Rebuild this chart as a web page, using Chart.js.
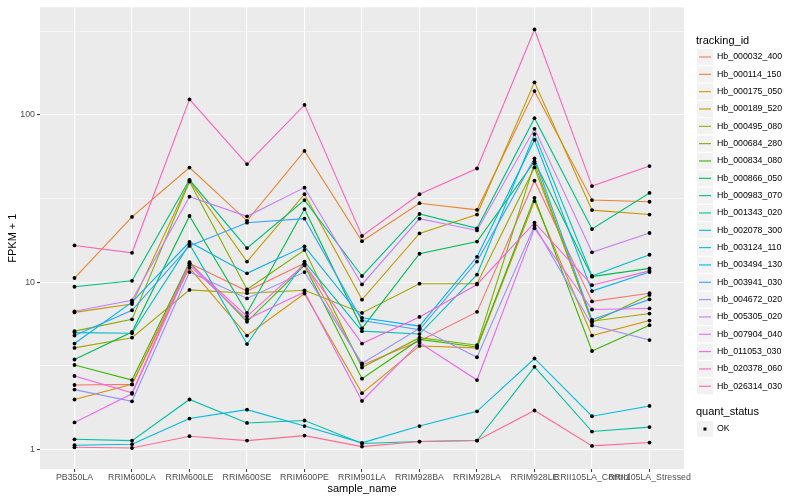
<!DOCTYPE html>
<html>
<head>
<meta charset="utf-8">
<script src="https://cdn.jsdelivr.net/npm/chart.js@4.4.1/dist/chart.umd.min.js"></script>
<style>
  html, body { margin: 0; padding: 0; background: #fff; }
  #wrap { width: 800px; height: 500px; position: relative; }
</style>
</head>
<body>
<div id="wrap"><canvas id="chart"></canvas></div>
<script>
const samples = ['PB350LA', 'RRIM600LA', 'RRIM600LE', 'RRIM600SE', 'RRIM600PE', 'RRIM901LA',
  'RRIM928BA', 'RRIM928LA', 'RRIM928LE', 'RRII105LA_Control', 'RRII105LA_Stressed']

const trackingIds = ['Hb_000032_400', 'Hb_000114_150', 'Hb_000175_050', 'Hb_000189_520', 'Hb_000495_080',
  'Hb_000684_280', 'Hb_000834_080', 'Hb_000866_050', 'Hb_000983_070', 'Hb_001343_020',
  'Hb_002078_300', 'Hb_003124_110', 'Hb_003494_130', 'Hb_003941_030', 'Hb_004672_020',
  'Hb_005305_020', 'Hb_007904_040', 'Hb_011053_030', 'Hb_020378_060', 'Hb_026314_030']

const colors = ['#F8766D', '#EA8331', '#D89000', '#C09B00', '#A3A500', '#7CAE00', '#39B600', '#00BB4E',
  '#00BF7D', '#00C1A3', '#00BFC4', '#00BAE0', '#00B0F6', '#35A2FF', '#9590FF', '#C77CFF',
  '#E76BF3', '#FA62DB', '#FF62BC', '#FF6C91']

// FPKM + 1, one array per tracking_id, in sample order
const hb000032 = [2.43, 2.45, 13.0, 8.85, 13.0, 3.2, 4.45, 6.65, 40.5, 7.68, 8.6]
const hb000114 = [10.6, 24.6, 48.5, 23.3, 61, 17.6, 29.7, 27.1, 139, 31.0, 30.3]
const hb000175 = [1.99, 2.45, 12.2, 4.8, 8.55, 2.17, 4.16, 4.05, 30.6, 4.8, 5.9]
const hb000189 = [6.6, 7.4, 40.5, 13.3, 33.6, 7.87, 19.6, 25.4, 157, 27.0, 25.4]
const hb000495 = [4.05, 4.66, 9.0, 8.6, 8.95, 6.55, 9.8, 9.8, 48.6, 5.85, 6.5]
const hb000684 = [5.1, 6.0, 40, 9.05, 15.6, 3.09, 4.66, 4.2, 51.4, 5.75, 8.4]
const hb000834 = [3.2, 2.6, 13.2, 5.8, 12.6, 2.65, 4.55, 4.1, 32.0, 3.88, 5.54]
const hb000866 = [3.45, 5.04, 24.9, 6.55, 27.4, 5.3, 14.8, 17.5, 52.7, 10.8, 12.1]
const hb000983 = [9.4, 10.2, 41, 16, 31.0, 10.9, 25.6, 21.0, 95.8, 20.8, 34.2]
const hb001343 = [1.15, 1.13, 1.99, 1.44, 1.49, 1.085, 1.115, 1.13, 3.12, 1.28, 1.36]
const hb002078 = [5.0, 4.95, 16.9, 4.27, 13.3, 5.1, 4.9, 11.1, 76.9, 10.9, 14.6]
const hb003124 = [1.06, 1.075, 1.53, 1.73, 1.38, 1.095, 1.38, 1.69, 3.5, 1.58, 1.82]
const hb003494 = [4.3, 7.6, 17.4, 11.3, 16.4, 6.13, 5.47, 14.2, 71.0, 8.85, 11.5]
const hb003941 = [4.8, 6.8, 16.5, 22.7, 24, 5.9, 5.2, 13.3, 55.0, 5.96, 7.9]
const hb004672 = [2.28, 1.94, 11.5, 8.0, 11.5, 3.27, 5.3, 3.56, 21.8, 5.52, 4.51]
const hb005305 = [6.7, 7.8, 32.5, 24.8, 36.8, 9.7, 24, 20.4, 82.7, 15.1, 19.7]
const hb007904 = [1.45, 2.15, 12.6, 6.0, 8.75, 1.95, 4.35, 2.6, 21.0, 6.87, 6.97]
const hb011053 = [2.75, 2.18, 12.9, 6.25, 12.8, 4.3, 6.2, 9.7, 22.7, 9.6, 11.7]
const hb020378 = [16.6, 15.0, 124, 50.9, 115, 18.9, 33.6, 47.9, 325, 37.6, 49.5]
const hb026314 = [1.03, 1.02, 1.2, 1.13, 1.21, 1.04, 1.115, 1.13, 1.71, 1.05, 1.10]

const series = [hb000032, hb000114, hb000175, hb000189, hb000495, hb000684, hb000834, hb000866,
  hb000983, hb001343, hb002078, hb003124, hb003494, hb003941, hb004672, hb005305,
  hb007904, hb011053, hb020378, hb026314]

const yBreaks = [1, 10, 100]
const yMinor = [3.1623, 31.623, 316.23]

const FONT = "'Liberation Sans', Arial, Helvetica, sans-serif"
Chart.defaults.font.family = FONT

const isMajor = (v) => yBreaks.some((b) => Math.abs(b - v) < 1e-6)

const lineSets = series.map((vals, i) => ({
  type: 'line',
  label: trackingIds[i],
  data: vals.map((v, j) => ({ x: j, y: v })),
  borderColor: colors[i],
  borderWidth: 1.1,
  pointRadius: 0,
  tension: 0,
  fill: false,
  order: series.length - i + 1,
}))

const pointSet = {
  type: 'line',
  label: 'OK',
  data: series.flatMap((vals) => vals.map((v, j) => ({ x: j, y: v }))),
  showLine: false,
  pointRadius: 1.9,
  pointBackgroundColor: '#000',
  pointBorderWidth: 0,
  order: 1,
}

const ggExtras = {
  id: 'ggExtras',
  beforeDraw(chart) {
    const { ctx, chartArea: a } = chart
    ctx.save()
    ctx.fillStyle = '#EBEBEB'
    ctx.fillRect(a.left, a.top, a.right - a.left, a.bottom - a.top)
    ctx.restore()
  },
  afterDraw(chart) {
    const { ctx, chartArea: a } = chart
    ctx.save()
    ctx.fillStyle = '#000'
    ctx.font = `11px ${FONT}`
    ctx.textAlign = 'center'
    ctx.textBaseline = 'middle'
    ctx.fillText('sample_name', (a.left + a.right) / 2, 488.5)
    ctx.translate(12.5, (a.top + a.bottom) / 2)
    ctx.rotate(-Math.PI / 2)
    ctx.fillText('FPKM + 1', 0, 0)
    ctx.restore()

    // legend
    ctx.save()
    ctx.textAlign = 'left'
    ctx.textBaseline = 'middle'
    ctx.fillStyle = '#000'
    ctx.font = `11px ${FONT}`
    ctx.fillText('tracking_id', 696, 40.7)
    const step = 17.33
    trackingIds.forEach((id, i) => {
      const cy = 57 + i * step
      ctx.fillStyle = '#F2F2F2'
      ctx.fillRect(697, cy - 8, 16, 16)
      ctx.strokeStyle = colors[i]
      ctx.lineWidth = 1.1
      ctx.beginPath()
      ctx.moveTo(699, cy)
      ctx.lineTo(711, cy)
      ctx.stroke()
      ctx.fillStyle = '#000'
      ctx.font = `8.8px ${FONT}`
      ctx.fillText(id, 717, cy)
    })
    ctx.font = `11px ${FONT}`
    ctx.fillText('quant_status', 696, 412.3)
    ctx.fillStyle = '#F2F2F2'
    ctx.fillRect(697, 421, 16, 16)
    ctx.fillStyle = '#000'
    ctx.fillRect(703.5, 427.5, 3, 3)
    ctx.font = `8.8px ${FONT}`
    ctx.fillText('OK', 717, 429)
    ctx.restore()
  },
}

new Chart(document.getElementById('chart'), {
  data: { datasets: [...lineSets, pointSet] },
  plugins: [ggExtras],
  options: {
    responsive: true,
    maintainAspectRatio: false,
    devicePixelRatio: 1,
    animation: false,
    layout: { padding: { top: 5, right: 116, left: 0, bottom: 0 } },
    plugins: {
      legend: { display: false },
      tooltip: { enabled: false },
    },
    scales: {
      x: {
        type: 'linear',
        min: -0.6,
        max: samples.length - 0.4,
        afterBuildTicks: (axis) => { axis.ticks = samples.map((s, i) => ({ value: i })) },
        afterFit: (axis) => { axis.height = 31 },
        ticks: {
          autoSkip: false,
          maxRotation: 0,
          minRotation: 0,
          padding: 0,
          color: '#4D4D4D',
          font: { size: 8.8 },
          callback: (v) => samples[v],
        },
        grid: {
          color: '#FFFFFF',
          lineWidth: 1.1,
          tickLength: 3,
          tickColor: '#333333',
          tickWidth: 1,
        },
        border: { display: false },
      },
      y: {
        type: 'logarithmic',
        min: 0.764,
        max: 441,
        afterBuildTicks: (axis) => {
          axis.ticks = [...yBreaks, ...yMinor].sort((p, q) => p - q).map((v) => ({ value: v, major: isMajor(v) }))
        },
        afterFit: (axis) => { axis.width = 40 },
        ticks: {
          padding: 2,
          color: '#4D4D4D',
          font: { size: 8.8 },
          callback: (v) => (isMajor(v) ? String(Math.round(v)) : ''),
        },
        grid: {
          color: '#FFFFFF',
          lineWidth: (c) => (c.tick && isMajor(c.tick.value) ? 1.1 : 0.55),
          tickLength: 3,
          tickColor: (c) => (c.tick && isMajor(c.tick.value) ? '#333333' : 'rgba(0,0,0,0)'),
          tickWidth: 1,
        },
        border: { display: false },
      },
    },
  },
})
</script>
</body>
</html>
